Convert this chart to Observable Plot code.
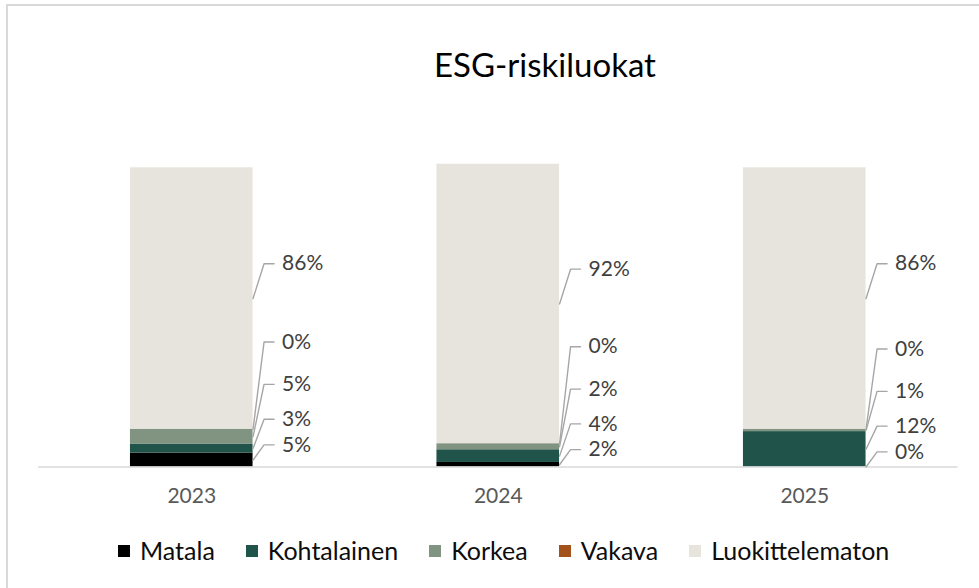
<!DOCTYPE html>
<html><head><meta charset="utf-8">
<script src="https://cdn.jsdelivr.net/npm/d3@7"></script>
<script src="https://cdn.jsdelivr.net/npm/@observablehq/plot@0.6"></script>
<style>
html,body{margin:0;padding:0;background:#fff;}
#wrap{position:relative;width:979px;height:588px;overflow:hidden;font-family:Lato,sans-serif;}
#frame{position:absolute;left:6px;top:4px;width:1000px;height:620px;border:2px solid #d9d9d9;box-sizing:border-box;}
#title{position:absolute;left:345px;width:400px;top:48px;text-align:center;font-size:33px;line-height:33px;color:#000;}
#chart{position:absolute;left:0;top:0;}
#legend{position:absolute;left:118px;top:538px;display:flex;align-items:center;font-size:25px;line-height:25px;color:#0d0d0d;white-space:nowrap;}
#legend .item{display:flex;align-items:center;margin-right:31px;}
#legend .sw{width:12px;height:12px;margin-right:10px;}
</style>
</head><body>
<div id="wrap">
  <div id="frame"></div>
  <div id="title">ESG-riskiluokat</div>
  <div id="chart"></div>
  <div id="legend"></div>
</div>
<script>
const years = ["2023", "2024", "2025"];
const categories = ["Matala", "Kohtalainen", "Korkea", "Vakava", "Luokittelematon"];
const colors = ["#000000", "#20544a", "#819381", "#a4521c", "#e7e3dd"];
const matala = [4.6, 1.5, 0];
const kohtalainen = [3.0, 4.2, 11.7];
const korkea = [4.9, 2.0, 0.8];
const vakava = [0, 0, 0];
const luokittelematon = [86.4, 92.4, 86.4];

const series = [matala, kohtalainen, korkea, vakava, luokittelematon];

// layout constants (pixels converted to data units)
const step = 306.5;           // px per x unit
const half = 0.2;             // half bar width in x units
const firstOffset = 5, gaps = [8.5, 11.5, 14], topOffset = 11.5;

const segs = [];
const leaders = [];
years.forEach((yr, i) => {
  let cum = 0, prevLabel = null;
  categories.forEach((cat, k) => {
    const v = series[k][i];
    const y1 = cum, y2 = cum + v;
    cum = y2;
    const mid = (y1 + y2) / 2;
    let ly;
    if (k === 0) ly = mid + firstOffset;
    else if (k === categories.length - 1) ly = Math.max(mid + topOffset, prevLabel + 14);
    else ly = Math.max(mid + firstOffset, prevLabel + gaps[k - 1]);
    prevLabel = ly;
    const id = yr + "-" + cat;
    segs.push({i, year: yr, cat, value: v, y1, y2, mid, ly, id});
    const xr = i + half;
    leaders.push({id, x: xr, y: mid});
    leaders.push({id, x: xr + 11 / step, y: ly});
    leaders.push({id, x: xr + 21 / step, y: ly});
  });
});

const chart = Plot.plot({
  width: 979,
  height: 520,
  marginLeft: 38,
  marginRight: 21.5,
  marginTop: 164,
  marginBottom: 53.5,
  style: {fontFamily: "Lato, sans-serif", background: "transparent"},
  x: {domain: [-0.5, 2.5], axis: null, label: null},
  y: {domain: [0, 100], axis: null, label: null},
  color: {domain: categories, range: colors},
  marks: [
    Plot.rectY(segs.filter(d => d.value > 0), {x1: d => d.i - half, x2: d => d.i + half, y1: "y1", y2: "y2", fill: "cat"}),
    Plot.ruleY([0], {stroke: "#d9d9d9", strokeWidth: 1.6}),
    Plot.line(leaders, {x: "x", y: "y", z: "id", stroke: "#a6a6a6", strokeWidth: 1.4, curve: "linear"}),
    Plot.text(segs, {x: d => d.i + half, y: "ly", text: d => Math.round(d.value) + "%", dx: 29, textAnchor: "start", lineAnchor: "middle", fontSize: 21, fill: "#404040"}),
    Plot.axisX({ticks: [0, 1, 2], tickFormat: i => years[i], tickSize: 0, tickPadding: 21, fontSize: 21, fill: "#595959", label: null})
  ]
});
document.getElementById("chart").appendChild(chart);

const legend = document.getElementById("legend");
categories.forEach((c, k) => {
  const it = document.createElement("div");
  it.className = "item";
  const sw = document.createElement("span");
  sw.className = "sw";
  sw.style.background = colors[k];
  const t = document.createElement("span");
  t.textContent = c;
  it.appendChild(sw); it.appendChild(t);
  legend.appendChild(it);
});
</script>
</body></html>
